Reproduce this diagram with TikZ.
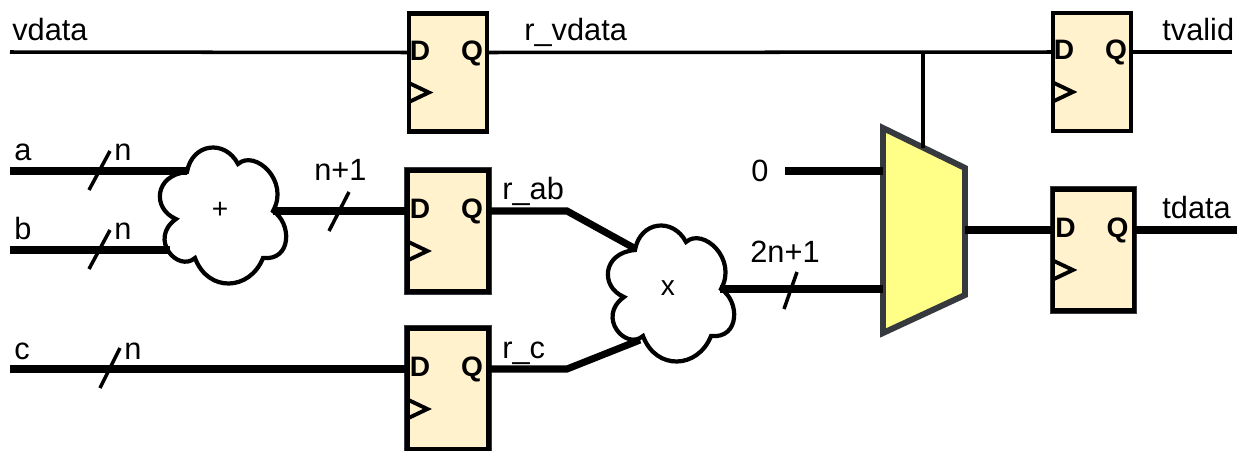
\documentclass[tikz,border=0pt]{standalone}
\usepackage{fontspec}
\setmainfont{Liberation Sans}
\usetikzlibrary{calc,positioning}
\definecolor{fffill}{HTML}{FFF2CC}
\definecolor{muxfill}{HTML}{FFFF88}
\definecolor{muxline}{HTML}{36393D}
\tikzset{
    wire/.style={line width=2pt},
    bus/.style={line width=4pt},
    slashmark/.style={line width=2pt},
    lbl/.style={anchor=base west, inner sep=0pt, font=\fontsize{17.5}{17.5}\selectfont},
    ffbox/.style={draw=black, fill=fffill, line width=2.4pt, minimum width=1.56cm, minimum height=2.36cm, inner sep=0pt},
    ffdark/.style={ffbox, preaction={draw=muxline, line width=3.5pt}, minimum width=1.62cm, minimum height=2.42cm},
    ffpin/.style={inner sep=0pt, yshift=-1pt, text height=0.7em, text depth=0pt, font=\fontsize{16}{16}\selectfont\bfseries},
    muxbox/.style={draw=muxline, fill=muxfill, line width=3.4pt, line join=miter},
    cloudpic/.pic={
        \draw[fill=white, line width=2.4pt] (-33,-39) .. controls (-28,-68) and (5,-72) .. (18,-47)
            .. controls (35,-62) and (70,-30) .. (53,0)
            .. controls (72,12) and (72,50) .. (43,47)
            .. controls (30,80) and (-12,82) .. (-25,47)
            .. controls (-42,62) and (-72,28) .. (-44,8)
            .. controls (-68,-2) and (-66,-36) .. (-33,-39) -- cycle;
    }
}
\newcommand{\flipflop}[3][ffbox]{
    \node[#1] (#2) at (#3) {};
    \node[ffpin] (#2d) at ($(#2.center)+(-28,-20)$) {D};
    \node[ffpin] (#2q) at ($(#2.center)+(24,-20)$) {Q};
    \coordinate (#2in) at ($(#2.center)+(-40,-20)$);
    \coordinate (#2out) at ($(#2.center)+(40,-20)$);
    \draw[line width=2.2pt, line join=miter] ($(#2.west)+(1,10)$) -- ($(#2.west)+(22,20)$) -- ($(#2.west)+(1,30)$);
}
\begin{document}
\begin{tikzpicture}[x=0.02cm, y=-0.02cm]
    \useasboundingbox (0,0) rectangle (1241,450);

    \flipflop{ffvdata}{448,72.5}
    \flipflop[ffdark]{ffrab}{448,231}
    \flipflop[ffdark]{ffrc}{448,389}
    \flipflop{fftvalid}{1092,72}
    \flipflop[ffdark]{fftdata}{1093.5,250}

    \coordinate (muxnw) at (883,128);
    \coordinate (muxne) at (965,168);
    \coordinate (muxse) at (965,295);
    \coordinate (muxsw) at (883,333);
    \draw[muxbox] (muxnw) -- (muxne) -- (muxse) -- (muxsw) -- cycle;

    \pic at (220,211) {cloudpic};
    \node[inner sep=0pt, font=\fontsize{16}{16}\selectfont] (add) at (220,210) {+};
    \pic at (668,289) {cloudpic};
    \node[inner sep=0pt, font=\fontsize{16}{16}\selectfont] (mul) at (668,288) {x};

    \coordinate (vdatain) at (10,52);
    \coordinate (rvtap) at (923,52);
    \coordinate (muxsel) at (923,148);
    \coordinate (tvalidout) at (1232,52);
    \coordinate (ain) at (10,171);
    \coordinate (aend) at (187,171);
    \coordinate (bin) at (10,250);
    \coordinate (bend) at (170,250);
    \coordinate (addout) at (273,211);
    \coordinate (cin) at (10,369);
    \coordinate (rabbend) at (567,211);
    \coordinate (mulab) at (634,248);
    \coordinate (rcbend) at (567,369);
    \coordinate (mulc) at (640,340);
    \coordinate (mulout) at (720,289);
    \coordinate (zeroin) at (785,171);
    \coordinate (muxout) at (965,230);
    \coordinate (tdataout) at (1237,230);

    \draw[wire] (vdatain) -- (ffvdatain);
    \draw[wire] (ffvdataout) -- (fftvalidin);
    \draw[wire] (rvtap) -- (muxsel);
    \draw[wire] (fftvalidout) -- (tvalidout);
    \draw[bus] (ain) -- (aend);
    \draw[bus] (bin) -- (bend);
    \draw[bus] (addout) -- (ffrabin);
    \draw[bus] (cin) -- (ffrcin);
    \draw[bus] (ffrabout) -- (rabbend) -- (mulab);
    \draw[bus] (ffrcout) -- (rcbend) -- (mulc);
    \draw[bus] (mulout) -- (mulout -| muxnw);
    \draw[bus] (zeroin) -- (zeroin -| muxnw);
    \draw[bus] (muxout) -- (fftdatain);
    \draw[bus] (fftdataout) -- (tdataout);

    \draw[slashmark] (89,190) -- (110,151);
    \draw[slashmark] (89,269) -- (110,230);
    \draw[slashmark] (329,231) -- (349,192);
    \draw[slashmark] (100,388) -- (120,348);
    \draw[slashmark] (784,309) -- (797,272);

    \node[lbl] (vdatatxt) at (12,40) {vdata};
    \node[lbl] (rvdatatxt) at (524,40) {r\_vdata};
    \node[lbl] (tvalidtxt) at (1162,40) {tvalid};
    \node[lbl] (atxt) at (14,160) {a};
    \node[lbl] (antxt) at (114,160) {n};
    \node[lbl] (btxt) at (14,239) {b};
    \node[lbl] (bntxt) at (114,239) {n};
    \node[lbl] (ctxt) at (14,359) {c};
    \node[lbl] (cntxt) at (124,359) {n};
    \node[lbl] (addntxt) at (314,180) {n+1};
    \node[lbl] (rabtxt) at (502,199) {r\_ab};
    \node[lbl] (rctxt) at (502,358) {r\_c};
    \node[lbl] (zerotxt) at (751,181) {0};
    \node[lbl] (multxt) at (750,262) {2n+1};
    \node[lbl] (tdatatxt) at (1162,218) {tdata};
\end{tikzpicture}
\end{document}
